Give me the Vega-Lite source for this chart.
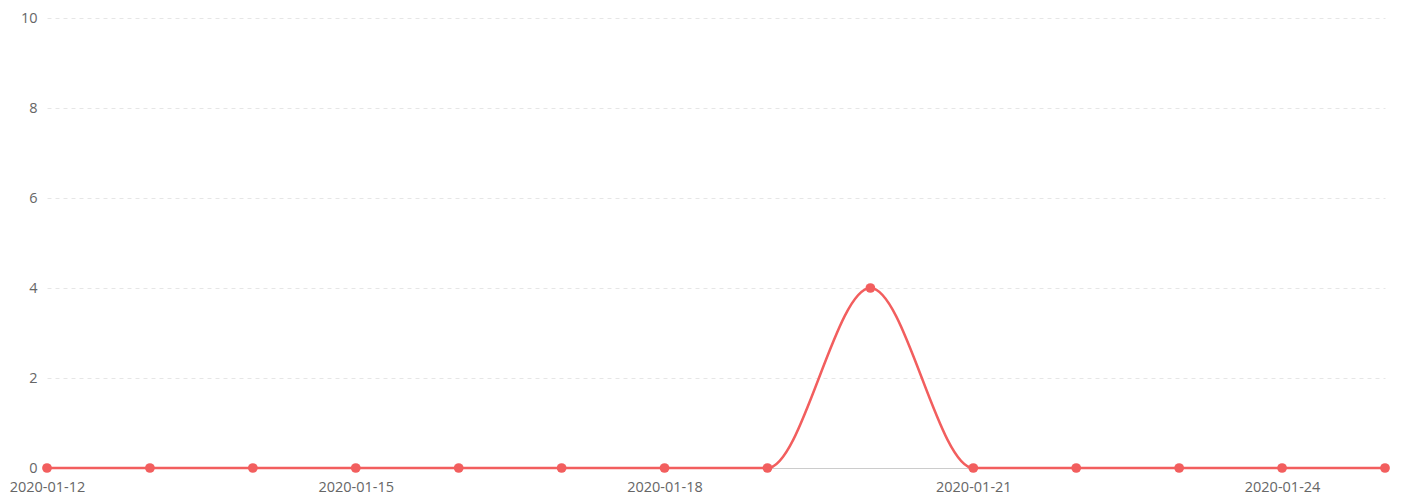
{
  "$schema": "https://vega.github.io/schema/vega-lite/v6.json",
  "width": 1338,
  "height": 450,
  "autosize": {"type": "none"},
  "padding": {"left": 47, "top": 18, "right": 17, "bottom": 36},
  "background": "#ffffff",
  "config": {"view": {"stroke": null}, "font": "Open Sans"},
  "data": {"values": [
    {"date": "2020-01-12", "value": 0},
    {"date": "2020-01-13", "value": 0},
    {"date": "2020-01-14", "value": 0},
    {"date": "2020-01-15", "value": 0},
    {"date": "2020-01-16", "value": 0},
    {"date": "2020-01-17", "value": 0},
    {"date": "2020-01-18", "value": 0},
    {"date": "2020-01-19", "value": 0},
    {"date": "2020-01-20", "value": 4},
    {"date": "2020-01-21", "value": 0},
    {"date": "2020-01-22", "value": 0},
    {"date": "2020-01-23", "value": 0},
    {"date": "2020-01-24", "value": 0},
    {"date": "2020-01-25", "value": 0}
  ]},
  "encoding": {
    "x": {
      "field": "date", "type": "ordinal", "sort": null,
      "scale": {"type": "point", "padding": 0},
      "axis": {
        "title": null, "labelAngle": 0, "ticks": false, "grid": false,
        "domain": true, "domainColor": "#cccccc", "domainWidth": 1,
        "values": ["2020-01-12", "2020-01-15", "2020-01-18", "2020-01-21", "2020-01-24"],
        "labelColor": "#666666", "labelFontSize": 14.5, "labelPadding": 12
      }
    },
    "y": {
      "field": "value", "type": "quantitative",
      "scale": {"domain": [0, 10], "nice": false},
      "axis": {
        "title": null, "values": [0, 2, 4, 6, 8, 10], "ticks": false, "domain": false,
        "grid": true, "gridDash": [4, 4], "gridColor": "#e6e6e6",
        "labelColor": "#666666", "labelFontSize": 14.5, "labelPadding": 10
      }
    }
  },
  "layer": [
    {"mark": {"type": "line", "interpolate": "monotone", "color": "#f25e5e", "strokeWidth": 2.5}},
    {"mark": {"type": "point", "filled": true, "color": "#f25e5e", "opacity": 1, "size": 95}}
  ]
}
